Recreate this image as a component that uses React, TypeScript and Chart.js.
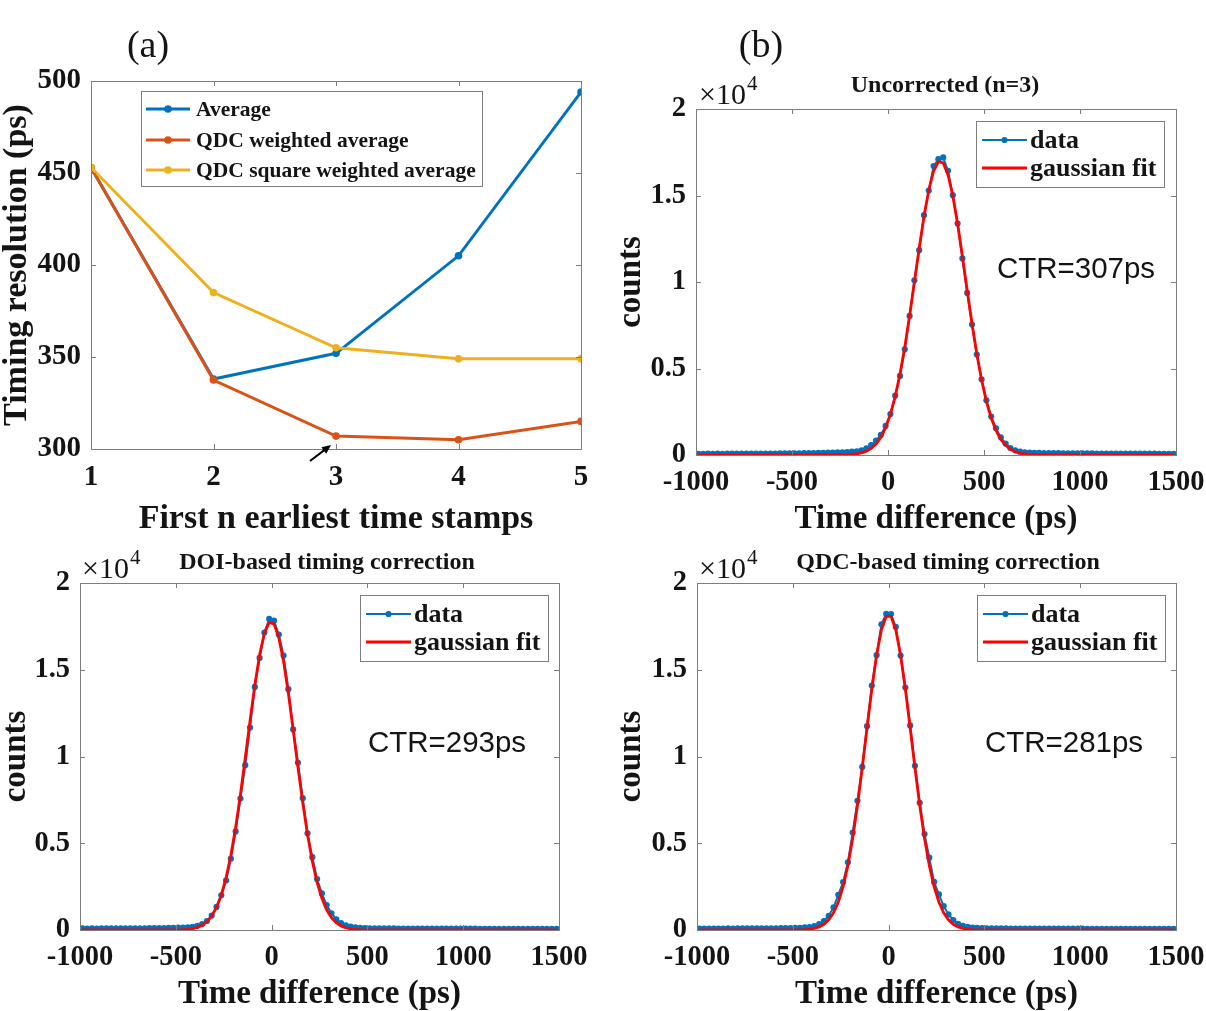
import React, { useEffect, useRef } from 'react';
import { Chart, registerables } from 'chart.js';

Chart.register(...registerables);

const SERIF = '"Liberation Serif", "Times New Roman", Times, serif';
const SANS = '"Liberation Sans", Arial, Helvetica, sans-serif';
const INK = '#141414';
const AXIS_GRAY = '#7d7d7d';
const BLUE = '#0072BD';
const ORANGE = '#D95319';
const YELLOW = '#EDB120';
const RED = '#FF0000';

// ---------- Panel (a): timing resolution vs n ----------
const N_STAMPS = [1, 2, 3, 4, 5];
const AVERAGE_PS = [453, 338, 352, 405, 494];
const QDC_WEIGHTED_PS = [453, 337.5, 307, 305, 315];
const QDC_SQUARE_PS = [453, 385, 355, 349, 349];

// ---------- Panels (b): time-difference histograms (bin centres, ps) ----------
const TIME_PS = [
  -987.5, -962.5, -937.5, -912.5, -887.5, -862.5, -837.5, -812.5, -787.5, -762.5,
  -737.5, -712.5, -687.5, -662.5, -637.5, -612.5, -587.5, -562.5, -537.5, -512.5,
  -487.5, -462.5, -437.5, -412.5, -387.5, -362.5, -337.5, -312.5, -287.5, -262.5,
  -237.5, -212.5, -187.5, -162.5, -137.5, -112.5, -87.5, -62.5, -37.5, -12.5,
  12.5, 37.5, 62.5, 87.5, 112.5, 137.5, 162.5, 187.5, 212.5, 237.5,
  262.5, 287.5, 312.5, 337.5, 362.5, 387.5, 412.5, 437.5, 462.5, 487.5,
  512.5, 537.5, 562.5, 587.5, 612.5, 637.5, 662.5, 687.5, 712.5, 737.5,
  762.5, 787.5, 812.5, 837.5, 862.5, 887.5, 912.5, 937.5, 962.5, 987.5,
  1012.5, 1037.5, 1062.5, 1087.5, 1112.5, 1137.5, 1162.5, 1187.5, 1212.5, 1237.5,
  1262.5, 1287.5, 1312.5, 1337.5, 1362.5, 1387.5, 1412.5, 1437.5, 1462.5, 1487.5,
];

// Uncorrected (n=3)
const UNCORR_COUNTS = [
  72, 70, 74, 71, 75, 73, 76, 74, 78, 77,
  80, 79, 82, 84, 83, 86, 88, 90, 92, 95,
  97, 100, 104, 108, 112, 118, 124, 132, 140, 150,
  160, 172, 190, 215, 265, 385, 575, 830, 1160, 1680,
  2370, 3430, 4570, 6110, 8040, 10100, 11840, 13860, 15290, 16700,
  17100, 17200, 16430, 15020, 13380, 11360, 9370, 7540, 5810, 4380,
  3160, 2220, 1540, 1020, 660, 405, 270, 195, 160, 140,
  128, 120, 114, 110, 106, 103, 100, 98, 96, 94,
  92, 90, 89, 87, 86, 84, 83, 82, 80, 79,
  78, 77, 76, 75, 74, 74, 73, 72, 72, 71,
];
const UNCORR_FIT = [
  0, 0, 0, 0, 0, 0, 0, 0, 0, 0,
  0, 0, 0, 0, 0, 0, 0, 0, 0, 0,
  0, 0, 0, 0, 0, 0, 0, 0, 0, 4,
  8, 17, 34, 66, 123, 220, 380, 633, 1016, 1573,
  2346, 3375, 4677, 6248, 8046, 9986, 11949, 13780, 15319, 16415,
  16955, 16880, 16199, 14986, 13362, 11484, 9513, 7597, 5848, 4338,
  3102, 2139, 1422, 911, 563, 335, 192, 106, 57, 29,
  14, 7, 3, 1, 0, 0, 0, 0, 0, 0,
  0, 0, 0, 0, 0, 0, 0, 0, 0, 0,
  0, 0, 0, 0, 0, 0, 0, 0, 0, 0,
];

// DOI-based timing correction
const DOI_COUNTS = [
  88, 86, 90, 87, 92, 89, 93, 91, 95, 94,
  97, 96, 99, 101, 103, 106, 109, 113, 118, 124,
  132, 142, 158, 185, 240, 340, 520, 830, 1330, 2000,
  2860, 4110, 5680, 7580, 9500, 11670, 14010, 15680, 17140, 17930,
  17830, 17030, 15820, 13880, 11560, 9640, 7600, 5570, 4200, 2940,
  2110, 1440, 960, 620, 400, 270, 195, 150, 125, 110,
  100, 96, 93, 91, 89, 88, 86, 85, 84, 83,
  82, 81, 80, 79, 79, 78, 77, 77, 76, 75,
  75, 74, 74, 73, 73, 72, 72, 71, 71, 70,
  70, 70, 69, 69, 68, 68, 68, 67, 67, 67,
];
const DOI_FIT = [
  0, 0, 0, 0, 0, 0, 0, 0, 0, 0,
  0, 0, 0, 0, 0, 0, 0, 0, 2, 4,
  9, 19, 40, 79, 150, 273, 479, 805, 1301, 2018,
  3008, 4306, 5919, 7816, 9911, 12069, 14117, 15858, 17110, 17728,
  17643, 16863, 15479, 13646, 11555, 9395, 7338, 5505, 3965, 2743,
  1823, 1163, 713, 420, 237, 129, 67, 34, 16, 7,
  3, 1, 0, 0, 0, 0, 0, 0, 0, 0,
  0, 0, 0, 0, 0, 0, 0, 0, 0, 0,
  0, 0, 0, 0, 0, 0, 0, 0, 0, 0,
  0, 0, 0, 0, 0, 0, 0, 0, 0, 0,
];

// QDC-based timing correction
const QDC_COUNTS = [
  84, 83, 86, 85, 87, 86, 88, 87, 90, 89,
  91, 92, 94, 95, 97, 99, 101, 104, 107, 111,
  118, 130, 150, 170, 230, 340, 520, 820, 1300, 2030,
  2760, 3900, 5620, 7450, 9400, 11750, 14090, 15840, 17620, 18220,
  18210, 17470, 15820, 13970, 11790, 9460, 7330, 5530, 4170, 2770,
  2050, 1380, 900, 570, 360, 240, 175, 140, 120, 108,
  100, 96, 93, 90, 88, 86, 85, 84, 83, 82,
  81, 80, 79, 78, 78, 77, 76, 76, 75, 74,
  74, 73, 73, 72, 72, 71, 71, 70, 70, 70,
  69, 69, 68, 68, 68, 67, 67, 66, 66, 66,
];
const QDC_FIT = [
  0, 0, 0, 0, 0, 0, 0, 0, 0, 0,
  0, 0, 0, 0, 0, 0, 0, 0, 1, 2,
  4, 10, 22, 46, 93, 180, 332, 588, 996, 1615,
  2505, 3721, 5287, 7190, 9357, 11655, 13893, 15850, 17304, 18081,
  18081, 17304, 15850, 13893, 11655, 9357, 7190, 5287, 3721, 2505,
  1615, 996, 588, 332, 180, 93, 46, 22, 10, 4,
  2, 1, 0, 0, 0, 0, 0, 0, 0, 0,
  0, 0, 0, 0, 0, 0, 0, 0, 0, 0,
  0, 0, 0, 0, 0, 0, 0, 0, 0, 0,
  0, 0, 0, 0, 0, 0, 0, 0, 0, 0,
];

// ---------- plugins ----------
const framePlugin = {
  id: 'matlabFrame',
  afterDatasetsDraw(chart: any) {
    const { ctx, chartArea } = chart;
    const { left, right, top, bottom } = chartArea;
    const xs = chart.scales.x;
    const ys = chart.scales.y;
    const len = 5;
    ctx.save();
    ctx.strokeStyle = AXIS_GRAY;
    ctx.lineWidth = 1;
    ctx.beginPath();
    for (const t of xs.ticks) {
      const px = Math.round(xs.getPixelForValue(t.value)) + 0.5;
      ctx.moveTo(px, bottom);
      ctx.lineTo(px, bottom - len);
      ctx.moveTo(px, top);
      ctx.lineTo(px, top + len);
    }
    for (const t of ys.ticks) {
      const py = Math.round(ys.getPixelForValue(t.value)) + 0.5;
      ctx.moveTo(left, py);
      ctx.lineTo(left + len, py);
      ctx.moveTo(right, py);
      ctx.lineTo(right - len, py);
    }
    ctx.stroke();
    ctx.strokeRect(Math.round(left) + 0.5, Math.round(top) + 0.5, Math.round(right - left), Math.round(bottom - top));
    ctx.restore();
  },
};

const legendPlugin = {
  id: 'boxLegend',
  afterDraw(chart: any, _args: any, o: any) {
    if (!o || !o.rowY) return;
    const { ctx, chartArea } = chart;
    const x0 = Math.round(chartArea.left + o.dx);
    const y0 = Math.round(chartArea.top + o.dy);
    ctx.save();
    ctx.fillStyle = '#ffffff';
    ctx.fillRect(x0, y0, o.w, o.h);
    ctx.strokeStyle = AXIS_GRAY;
    ctx.lineWidth = 1;
    ctx.strokeRect(x0 + 0.5, y0 + 0.5, o.w, o.h);
    ctx.font = `bold ${o.fontSize}px ${SERIF}`;
    ctx.textBaseline = 'middle';
    ctx.textAlign = 'left';
    const order = o.order;
    for (let i = 0; i < order.length; i++) {
      const ds = chart.data.datasets[order[i]];
      const cy = y0 + o.rowY[i];
      ctx.strokeStyle = ds.borderColor;
      ctx.lineWidth = ds.borderWidth;
      ctx.beginPath();
      ctx.moveTo(x0 + o.sx0, cy);
      ctx.lineTo(x0 + o.sx1, cy);
      ctx.stroke();
      if (ds.pointRadius > 0) {
        ctx.fillStyle = ds.borderColor;
        ctx.beginPath();
        ctx.arc(x0 + (o.sx0 + o.sx1) / 2, cy, ds.pointRadius, 0, Math.PI * 2);
        ctx.fill();
      }
      ctx.fillStyle = INK;
      ctx.fillText(ds.label, x0 + o.tx, cy + 1);
    }
    ctx.restore();
  },
};

const arrowPlugin = {
  id: 'pointerArrow',
  afterDraw(chart: any, _args: any, o: any) {
    if (!o || o.x === undefined) return;
    const { ctx } = chart;
    const tipX = chart.scales.x.getPixelForValue(o.x) + o.tipDx;
    const tipY = chart.scales.y.getPixelForValue(o.y) + o.tipDy;
    const tailX = tipX + o.tailDx;
    const tailY = tipY + o.tailDy;
    const ang = Math.atan2(tipY - tailY, tipX - tailX);
    const hl = 9;
    const hw = 8;
    const c = Math.cos(ang);
    const s = Math.sin(ang);
    ctx.save();
    ctx.strokeStyle = '#000';
    ctx.fillStyle = '#000';
    ctx.lineWidth = 2;
    ctx.beginPath();
    ctx.moveTo(tailX, tailY);
    ctx.lineTo(tipX - c * hl * 0.8, tipY - s * hl * 0.8);
    ctx.stroke();
    ctx.beginPath();
    ctx.moveTo(tipX, tipY);
    ctx.lineTo(tipX - hl * c + (hw / 2) * s, tipY - hl * s - (hw / 2) * c);
    ctx.lineTo(tipX - hl * c - (hw / 2) * s, tipY - hl * s + (hw / 2) * c);
    ctx.closePath();
    ctx.fill();
    ctx.restore();
  },
};

// ---------- config builders ----------
type Geo = {
  yWidth: number;
  xHeight: number;
  padRight: number;
  padTop: number;
  yTitlePad: number;
  xTitlePad: number;
  tickSize: number;
  titleSize: number;
};

function scalesFor(geo: Geo, xOpts: any, yOpts: any, xTitle: string, yTitle: string) {
  const tickFont = { family: SERIF, size: geo.tickSize, weight: 'bold' };
  const titleFont = { family: SERIF, size: geo.titleSize, weight: 'bold', lineHeight: 1 };
  return {
    x: {
      type: 'linear',
      ...xOpts,
      grid: { display: false, drawTicks: false },
      border: { display: false },
      ticks: {
        ...xOpts.ticks,
        font: tickFont,
        color: INK,
        padding: 11,
        autoSkip: false,
        maxRotation: 0,
        minRotation: 0,
        callback: (v: any) => String(v),
      },
      title: {
        display: true,
        text: xTitle,
        font: titleFont,
        color: INK,
        padding: { top: 0, bottom: geo.xTitlePad },
      },
      afterFit: (s: any) => {
        s.height = geo.xHeight;
      },
    },
    y: {
      type: 'linear',
      ...yOpts,
      grid: { display: false, drawTicks: false },
      border: { display: false },
      ticks: {
        ...yOpts.ticks,
        font: tickFont,
        color: INK,
        padding: 10,
        autoSkip: false,
      },
      title: {
        display: true,
        text: yTitle,
        font: titleFont,
        color: INK,
        padding: { top: geo.yTitlePad, bottom: 0 },
      },
      afterFit: (s: any) => {
        s.width = geo.yWidth;
      },
    },
  };
}

function buildTimingConfig() {
  const geo: Geo = { yWidth: 91, xHeight: 91, padRight: 19, padTop: 41, yTitlePad: 0, xTitlePad: 4, tickSize: 29, titleSize: 34 };
  const pts = (arr: number[]) => N_STAMPS.map((n, i) => ({ x: n, y: arr[i] }));
  return {
    type: 'line',
    data: {
      datasets: [
        { label: 'Average', data: pts(AVERAGE_PS), borderColor: BLUE, backgroundColor: BLUE, borderWidth: 3, pointRadius: 3.8, pointBorderWidth: 0, order: 3 },
        { label: 'QDC weighted average', data: pts(QDC_WEIGHTED_PS), borderColor: ORANGE, backgroundColor: ORANGE, borderWidth: 3, pointRadius: 3.8, pointBorderWidth: 0, order: 2 },
        { label: 'QDC square weighted average', data: pts(QDC_SQUARE_PS), borderColor: YELLOW, backgroundColor: YELLOW, borderWidth: 3, pointRadius: 3.8, pointBorderWidth: 0, order: 1 },
      ],
    },
    options: {
      responsive: false,
      animation: false,
      events: [],
      layout: { padding: { left: 0, right: geo.padRight, top: geo.padTop, bottom: 0 } },
      scales: scalesFor(
        geo,
        { min: 1, max: 5, ticks: { stepSize: 1 } },
        { min: 300, max: 500, ticks: { stepSize: 50 } },
        'First n earliest time stamps',
        'Timing resolution (ps)'
      ),
      plugins: {
        legend: { display: false },
        tooltip: { enabled: false },
        boxLegend: { dx: 50, dy: 10, w: 341, h: 95, rowY: [18, 49, 79], sx0: 5, sx1: 49, tx: 55, fontSize: 21.5, order: [0, 1, 2] },
        pointerArrow: { x: 3, y: 300, tipDx: -5, tipDy: -4, tailDx: -21, tailDy: 16 },
      },
    },
    plugins: [framePlugin, legendPlugin, arrowPlugin],
  };
}

function buildHistConfig(counts: number[], fit: number[], geo: Geo) {
  return {
    type: 'line',
    data: {
      datasets: [
        { label: 'data', data: TIME_PS.map((t, i) => ({ x: t, y: counts[i] })), borderColor: BLUE, backgroundColor: BLUE, borderWidth: 2, pointRadius: 3.1, pointBorderWidth: 0, order: 1 },
        { label: 'gaussian fit', data: TIME_PS.map((t, i) => ({ x: t, y: fit[i] })), borderColor: RED, backgroundColor: RED, borderWidth: 2.8, pointRadius: 0, order: 0 },
      ],
    },
    options: {
      responsive: false,
      animation: false,
      events: [],
      layout: { padding: { left: 0, right: geo.padRight, top: geo.padTop, bottom: 0 } },
      scales: scalesFor(
        geo,
        { min: -1000, max: 1500, ticks: { stepSize: 500 } },
        { min: 0, max: 20000, ticks: { stepSize: 5000, callback: (v: any) => String(Number(v) / 10000) } },
        'Time difference (ps)',
        'counts'
      ),
      plugins: {
        legend: { display: false },
        tooltip: { enabled: false },
        boxLegend: { dx: 280, dy: 12, w: 188, h: 66, rowY: [19, 47], sx0: 6, sx1: 51, tx: 54, fontSize: 26, order: [0, 1] },
      },
    },
    plugins: [framePlugin, legendPlugin],
  };
}

// ---------- components ----------
function ChartCanvas({ left, top, width, height, build }: any) {
  const ref = useRef<HTMLCanvasElement | null>(null);
  useEffect(() => {
    if (!ref.current) return;
    const chart = new Chart(ref.current, build());
    return () => chart.destroy();
  }, []);
  return (
    <canvas
      ref={ref}
      width={width}
      height={height}
      style={{ position: 'absolute', left, top, width, height }}
    />
  );
}

function Centered({ x, y, size, weight, family, children }: any) {
  return (
    <div
      style={{
        position: 'absolute',
        left: x,
        top: y,
        transform: 'translate(-50%, -50%)',
        fontFamily: family,
        fontSize: size,
        fontWeight: weight,
        lineHeight: 1,
        whiteSpace: 'nowrap',
        color: INK,
      }}
    >
      {children}
    </div>
  );
}

function Exponent({ x, y }: any) {
  return (
    <div
      style={{
        position: 'absolute',
        left: x,
        top: y,
        transform: 'translateY(-50%)',
        fontFamily: SERIF,
        fontSize: 30,
        lineHeight: 1,
        whiteSpace: 'nowrap',
        color: INK,
      }}
    >
      ×10<span style={{ fontSize: 21, position: 'relative', top: -14, marginLeft: 1 }}>4</span>
    </div>
  );
}

const geoB: Geo = { yWidth: 96, xHeight: 85, padRight: 44, padTop: 49, yTitlePad: 15, xTitlePad: 4, tickSize: 28.5, titleSize: 33 };
const geoC: Geo = { yWidth: 80, xHeight: 81, padRight: 41, padTop: 48, yTitlePad: 0, xTitlePad: 0, tickSize: 28.5, titleSize: 33 };
const geoD: Geo = { yWidth: 97, xHeight: 81, padRight: 44, padTop: 48, yTitlePad: 15, xTitlePad: 0, tickSize: 28.5, titleSize: 33 };

export default function App() {
  return (
    <div
      style={{
        position: 'absolute',
        left: 0,
        top: 0,
        width: 1206,
        height: 1011,
        background: '#ffffff',
        overflow: 'hidden',
      }}
    >
      <ChartCanvas left={0} top={40} width={600} height={500} build={buildTimingConfig} />
      <ChartCanvas left={600} top={60} width={620} height={480} build={() => buildHistConfig(UNCORR_COUNTS, UNCORR_FIT, geoB)} />
      <ChartCanvas left={0} top={535} width={600} height={476} build={() => buildHistConfig(DOI_COUNTS, DOI_FIT, geoC)} />
      <ChartCanvas left={600} top={535} width={620} height={476} build={() => buildHistConfig(QDC_COUNTS, QDC_FIT, geoD)} />

      <Centered x={148} y={44} size={38} weight="normal" family={SERIF}>(a)</Centered>
      <Centered x={761} y={44} size={38} weight="normal" family={SERIF}>(b)</Centered>

      <Centered x={945} y={84} size={24} weight="bold" family={SERIF}>Uncorrected (n=3)</Centered>
      <Centered x={327} y={561} size={24} weight="bold" family={SERIF}>DOI-based timing correction</Centered>
      <Centered x={948} y={561} size={24} weight="bold" family={SERIF}>QDC-based timing correction</Centered>

      <Exponent x={699} y={94} />
      <Exponent x={82} y={568} />
      <Exponent x={699} y={568} />

      <Centered x={1076} y={268} size={29.5} weight="normal" family={SANS}>CTR=307ps</Centered>
      <Centered x={447} y={742} size={29.5} weight="normal" family={SANS}>CTR=293ps</Centered>
      <Centered x={1064} y={742} size={29.5} weight="normal" family={SANS}>CTR=281ps</Centered>
    </div>
  );
}
